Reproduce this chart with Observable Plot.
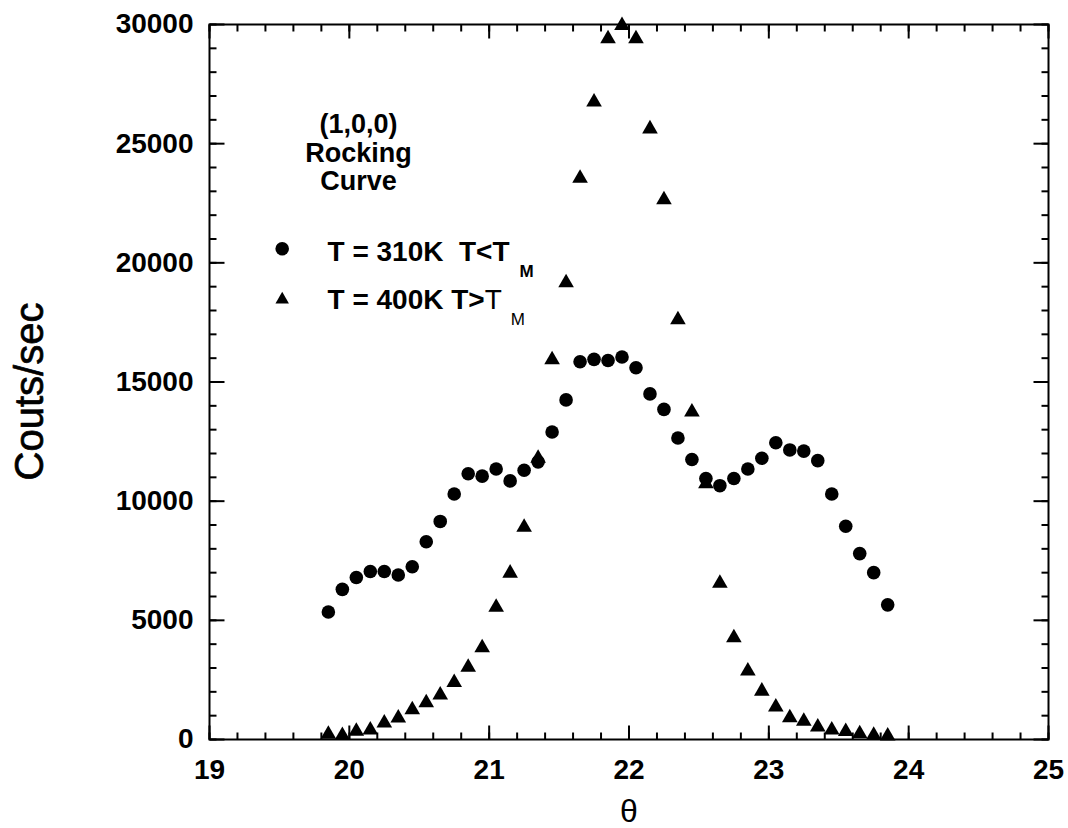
<!DOCTYPE html>
<html>
<head>
<meta charset="utf-8">
<script src="https://cdn.jsdelivr.net/npm/d3@7"></script>
<script src="https://cdn.jsdelivr.net/npm/@observablehq/plot@0.6"></script>
<style>
  body { margin: 0; background: #fff; }
  #chart svg { display: block; }
</style>
</head>
<body>
<div id="chart"></div>
<script>
// ---- data ----
const theta = [19.85, 19.95, 20.05, 20.15, 20.25, 20.35, 20.45, 20.55, 20.65, 20.75,
               20.85, 20.95, 21.05, 21.15, 21.25, 21.35, 21.45, 21.55, 21.65, 21.75,
               21.85, 21.95, 22.05, 22.15, 22.25, 22.35, 22.45, 22.55, 22.65, 22.75,
               22.85, 22.95, 23.05, 23.15, 23.25, 23.35, 23.45, 23.55, 23.65, 23.75, 23.85];
const counts310K = [5350, 6300, 6800, 7050, 7050, 6900, 7250, 8300, 9150, 10300,
                    11150, 11050, 11350, 10850, 11300, 11650, 12900, 14250, 15850, 15950,
                    15900, 16050, 15600, 14500, 13850, 12650, 11750, 10950, 10650, 10950,
                    11350, 11800, 12450, 12150, 12100, 11700, 10300, 8950, 7800, 7000, 5650];
const counts400K = [220, 170, 350, 400, 690, 900, 1250, 1540, 1870, 2390,
                    3030, 3850, 5550, 6980, 8910, 11800, 15930, 19160, 23550, 26750,
                    29400, 29960, 29400, 25620, 22650, 17610, 13740, 10730, 6560, 4270,
                    2870, 2030, 1360, 910, 770, 520, 400, 340, 240, 180, 150];
const xTickLabels = [19, 20, 21, 22, 23, 24, 25];
const yTickLabels = [0, 5000, 10000, 15000, 20000, 25000, 30000];
const annotationLines = ["(1,0,0)", "Rocking", "Curve"];
const legendLabels = ["T = 310K  T<T", "T = 400K T>"];
const yLabel = "Couts/sec";
const xLabel = "θ";

// ---- build table ----
const rows310 = theta.map((t, i) => ({theta: t, counts: counts310K[i]}));
const rows400 = theta.map((t, i) => ({theta: t, counts: counts400K[i]}));
const xMinor = d3.range(19, 25.0001, 0.2).map(v => +v.toFixed(1));
const yMinor = d3.range(0, 30001, 1000);

const W = 1068, H = 828;
const MG = {left: 209, right: 20, top: 24, bottom: 89};
const font = "'Liberation Sans', Arial, Helvetica, sans-serif";

// tick-mark symbols drawn as small filled bars pointing into the frame
const tickSym = (dx, dy, w, h) => ({draw(ctx) { ctx.rect(dx, dy, w, h); }});
const upMinor = tickSym(-1, -7, 2, 7),  upMajor = tickSym(-1, -14, 2, 14);
const dnMinor = tickSym(-1, 0, 2, 7),   dnMajor = tickSym(-1, 0, 2, 14);
const rtMinor = tickSym(0, -1, 7, 2),   rtMajor = tickSym(0, -1, 15, 2);
const lfMinor = tickSym(-7, -1, 7, 2),  lfMajor = tickSym(-15, -1, 15, 2);
const tk = {fill: "black", stroke: "none", r: 3};

const chart = Plot.plot({
  width: W,
  height: H,
  marginLeft: MG.left,
  marginRight: MG.right,
  marginTop: MG.top,
  marginBottom: MG.bottom,
  style: {fontFamily: font, background: "#fff", color: "black"},
  x: {domain: [19, 25], label: null, axis: null},
  y: {domain: [0, 30000], label: null, axis: null},
  marks: [
    // tick labels
    Plot.axisX(xTickLabels, {anchor: "bottom", tickSize: 0, tickPadding: 20, fontSize: 28, fontWeight: "bold",
      tickFormat: d => String(d), label: null, fill: "black"}),
    Plot.axisY(yTickLabels, {anchor: "left", tickSize: 0, tickPadding: 16, fontSize: 28, fontWeight: "bold",
      tickFormat: d => String(d), label: null, fill: "black"}),
    // axis titles
    Plot.text([yLabel], {frameAnchor: "left", dx: -179, dy: 9.5, rotate: -90, text: d => d,
      fontSize: 40, textAnchor: "middle", lineAnchor: "middle", fill: "black", stroke: "black", strokeWidth: 0.7}),
    Plot.text([xLabel], {frameAnchor: "bottom", dy: 72, text: d => d,
      fontSize: 32, textAnchor: "middle", lineAnchor: "middle", fill: "black"}),
    // annotation
    Plot.text([annotationLines.join("\n")], {frameAnchor: "top-left", dx: 149, dy: 89, text: d => d,
      fontSize: 27, fontWeight: "bold", textAnchor: "middle", lineAnchor: "top", lineHeight: 1.04, fill: "black"}),
    // legend
    Plot.dot([0], {frameAnchor: "top-left", dx: 72.7, dy: 224.3, r: 6.8, fill: "black", stroke: "none", symbol: "circle"}),
    Plot.dot([0], {frameAnchor: "top-left", dx: 72.7, dy: 275, r: 5, fill: "black", stroke: "none", symbol: "triangle"}),
    Plot.text([legendLabels[0]], {frameAnchor: "top-left", dx: 118, dy: 236, text: d => d,
      fontSize: 28, fontWeight: "bold", textAnchor: "start", lineAnchor: "bottom", fill: "black"}),
    Plot.text([legendLabels[1]], {frameAnchor: "top-left", dx: 118, dy: 284, text: d => d,
      fontSize: 28, fontWeight: "bold", textAnchor: "start", lineAnchor: "bottom", fill: "black"}),
    // data
    Plot.dot(rows310, {x: "theta", y: "counts", r: 6.8, fill: "black", stroke: "none", symbol: "circle"}),
    Plot.dot(rows400, {x: "theta", y: "counts", r: 5.8, fill: "black", stroke: "none", symbol: "triangle"}),
    // inward ticks on all four sides (minor, then major)
    Plot.dot(xMinor, {x: d => d, frameAnchor: "bottom", symbol: upMinor, ...tk}),
    Plot.dot(xTickLabels, {x: d => d, frameAnchor: "bottom", symbol: upMajor, ...tk}),
    Plot.dot(xMinor, {x: d => d, frameAnchor: "top", symbol: dnMinor, ...tk}),
    Plot.dot(xTickLabels, {x: d => d, frameAnchor: "top", symbol: dnMajor, ...tk}),
    Plot.dot(yMinor, {y: d => d, frameAnchor: "left", symbol: rtMinor, ...tk}),
    Plot.dot(yTickLabels, {y: d => d, frameAnchor: "left", symbol: rtMajor, ...tk}),
    Plot.dot(yMinor, {y: d => d, frameAnchor: "right", symbol: lfMinor, ...tk}),
    Plot.dot(yTickLabels, {y: d => d, frameAnchor: "right", symbol: lfMajor, ...tk}),
    Plot.frame({stroke: "black", strokeWidth: 2})
  ]
});

document.getElementById("chart").appendChild(chart);

try {
  const svgNode = chart.tagName.toLowerCase() === "svg" ? chart : chart.querySelector("svg");
  const svg = d3.select(svgNode);
  // subscripts and mixed weights in the legend
  svg.selectAll("text").filter(function () { return this.textContent === legendLabels[0]; })
    .call(t => t.append("tspan").attr("dx", 10).attr("dy", 16).attr("font-size", 17).text("M"));
  svg.selectAll("text").filter(function () { return this.textContent === legendLabels[1]; })
    .call(t => {
      t.append("tspan").attr("font-weight", "normal").text("T");
      t.append("tspan").attr("dx", 9).attr("dy", 16).attr("font-size", 17).attr("font-weight", "normal").text("M");
    });
} catch (e) { console.error(e); }
</script>
</body>
</html>
